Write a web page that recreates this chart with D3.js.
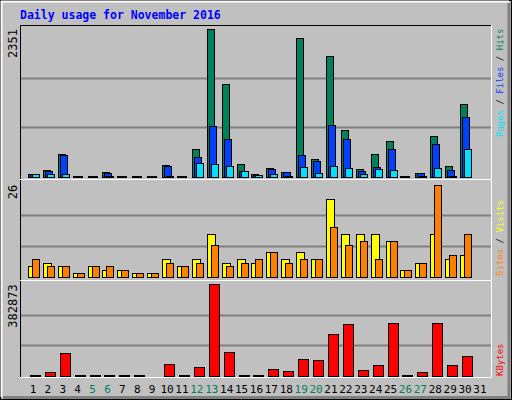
<!DOCTYPE html>
<html><head><meta charset="utf-8">
<script src="https://cdn.jsdelivr.net/npm/d3@7"></script>
<style>body{margin:0;background:#fff}svg{display:block}</style>
</head><body>
<script>
const days = d3.range(1, 32);
const weekends = [5,6,12,13,19,20,26,27];
const hits  = [40,100,362,3,3,75,3,3,3,186,3,441,2351,1472,202,40,138,74,2211,282,1924,744,122,362,569,3,58,648,170,1159,0];
const files = [35,80,345,3,3,58,3,3,3,173,3,314,808,600,90,30,122,70,345,250,824,600,85,154,441,3,50,521,106,951,0];
const pages = [35,40,40,0,0,8,0,0,0,5,0,218,204,170,85,30,40,5,154,58,170,138,40,122,106,0,5,138,5,441,0];
const visits = [3,4,3,1,3,2,2,1,1,5,3,5,12,4,5,4,7,5,7,5,22,12,12,12,10,2,4,12,5,6,0];
const sites  = [5,3,3,1,3,3,2,1,1,4,3,4,9,3,4,5,7,4,5,5,14,9,10,5,10,2,4,26,6,12,0];
const kbytes = [1000,14000,93600,1000,800,5000,800,800,0,48900,800,35000,382873,97800,800,800,26500,18200,68500,64300,173300,215200,22400,43300,219400,800,14000,219400,43300,81000,0];
const maxHits = 2351, maxVisits = 26, maxKB = 382873;

const W = 512, H = 400;
const svg = d3.select("body").append("svg").attr("width", W).attr("height", H);
const mono = "'DejaVu Sans Mono', monospace";

svg.append("rect").attr("x",0).attr("y",0).attr("width",W).attr("height",H).attr("fill","#c0c0c0");
svg.append("rect").attr("x",0.5).attr("y",0.5).attr("width",W-1).attr("height",H-1).attr("fill","none").attr("stroke","#000");
svg.append("path").attr("d","M1.5,397V1.5H509").attr("stroke","#fff").attr("stroke-width",2).attr("fill","none");
svg.append("path").attr("d","M509,3V397.5H3").attr("stroke","#808080").attr("stroke-width",3).attr("fill","none");

const L = 20, R = 491;
const x = d3.scaleBand().domain(days).range([25.5, 25.5 + 31*14.9]);
const cx = d => x(d) + x.bandwidth()/2;

const yH = d3.scaleLinear().domain([0, maxHits]).range([176.5, 29]);
const yV = d3.scaleLinear().domain([0, maxVisits]).range([276.7, 184.7]);
const yK = d3.scaleLinear().domain([0, maxKB]).range([375.7, 284.3]);
const panels = [[yH, maxHits, "2351"], [yV, maxVisits, "26"], [yK, maxKB, "382873"]];

panels.forEach(([s, m, label]) => {
  [1/3, 2/3].forEach(f => {
    const yy = Math.round(s(m * f)) + 0.5;
    svg.append("line").attr("x1", L).attr("x2", R).attr("y1", yy).attr("y2", yy).attr("stroke", "#808080").attr("stroke-width", 2);
  });
  svg.append("text").attr("transform", `translate(17,${s(m)}) rotate(-90)`)
    .attr("text-anchor", "end").attr("font-family", mono).attr("font-size", 12).attr("fill", "#000").text(label);
});

svg.append("path").attr("d", `M${L}.5,378V25.5H${R}`).attr("stroke", "#000").attr("fill", "none");
svg.append("path").attr("d", `M${R}.5,25V377.5H${L}`).attr("stroke", "#fff").attr("fill", "none");
[179, 280].forEach(yy => svg.append("line").attr("x1", L).attr("x2", R).attr("y1", yy+0.5).attr("y2", yy+0.5).attr("stroke", "#fff"));

function bars(data, scale, off, w, color) {
  const b = Math.round(scale(0));
  svg.append("g").selectAll("rect").data(days.filter((d, i) => data[i] > 0)).join("rect")
    .attr("x", d => Math.round(cx(d) + off) + 0.5)
    .attr("y", d => Math.min(Math.round(scale(data[d-1])), b - 1) + 0.5)
    .attr("width", w)
    .attr("height", d => Math.max(1, b - Math.round(scale(data[d-1]))))
    .attr("fill", color).attr("stroke", "#000");
}
bars(hits, yH, -5, 7, "#00805c");
bars(files, yH, -3, 7, "#0040ff");
bars(pages, yH, -1, 7, "#00e0ff");
bars(visits, yV, -5, 8, "#ffff00");
bars(sites, yV, -1, 7, "#ff8000");
bars(kbytes, yK, -3, 10, "#ff0000");

svg.append("g").selectAll("text").data(days).join("text")
  .attr("x", d => cx(d)).attr("y", 393).attr("text-anchor", "middle")
  .attr("font-family", mono).attr("font-size", 11)
  .attr("fill", d => weekends.includes(d) ? "#00805c" : "#000").text(d => d);

svg.append("text").attr("x", 20).attr("y", 19).attr("font-family", mono).attr("font-weight", "bold")
  .attr("font-size", 11.5).attr("fill", "#0000ff").text("Daily usage for November 2016");

function legend(yStart, parts) {
  const t = svg.append("text").attr("transform", `translate(503,${yStart}) rotate(-90)`)
    .attr("font-family", mono).attr("font-size", 9);
  parts.forEach(([txt, c]) => t.append("tspan").attr("fill", c).text(txt));
}
legend(137, [["Pages", "#00e0ff"], [" / ", "#000"], ["Files", "#0040ff"], [" / ", "#000"], ["Hits", "#00805c"]]);
legend(276, [["Sites", "#ff8000"], [" / ", "#000"], ["Visits", "#ffff00"]]);
legend(376, [["KBytes", "#ff0000"]]);
</script>
</body></html>
